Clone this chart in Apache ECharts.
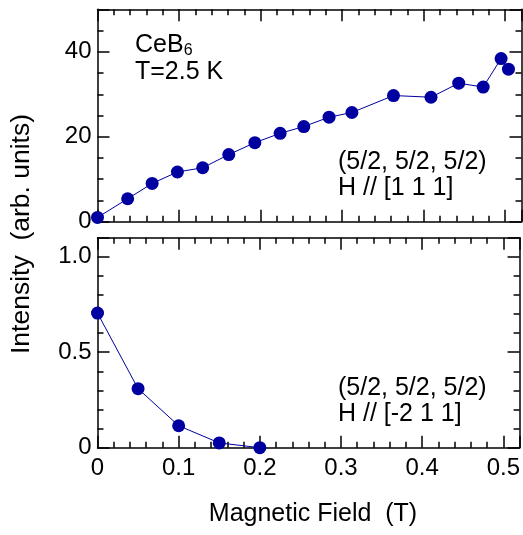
<!DOCTYPE html>
<html>
<head>
<meta charset="utf-8">
<script src="https://cdn.jsdelivr.net/npm/echarts@6/dist/echarts.min.js"></script>
<style>html,body{margin:0;padding:0;background:#fff}#c{width:523px;height:535px}</style>
</head>
<body>
<div id="c"></div>
<script>
// ---- data ----
const topField = [0, 0.037, 0.067, 0.098, 0.129, 0.161, 0.193, 0.224, 0.253, 0.284, 0.312, 0.363, 0.409, 0.443, 0.473, 0.495, 0.504];
const topIntensity = [1.0, 5.4, 9.0, 11.7, 12.7, 15.8, 18.6, 20.8, 22.4, 24.6, 25.7, 29.7, 29.3, 32.6, 31.7, 38.4, 35.9];
const bottomField = [0, 0.05, 0.10, 0.15, 0.20];
const bottomIntensity = [0.705, 0.309, 0.115, 0.025, 0.0];
const xTickLabels = ['0', '0.1', '0.2', '0.3', '0.4', '0.5'];
const topYTickLabels = ['0', '20', '40'];
const bottomYTickLabels = ['0', '0.5', '1.0'];

const FONT = '"Liberation Sans", Arial, Helvetica, sans-serif';
const FS = 24;
const BLUE = '#0000a0';
const lineStyle = { color: '#000', width: 1.5 };

function fmtFrom(list) {
  return function (v) {
    for (const s of list) { if (Math.abs(parseFloat(s) - v) < 1e-9) return s; }
    return '';
  };
}

function makeX(gridIndex, labels) {
  const base = { type: 'value', gridIndex, min: 0, max: 0.52, splitLine: { show: false } };
  return [
    Object.assign({}, base, { position: 'bottom', interval: 0.1,
      axisLine: { show: true, onZero: false, lineStyle },
      axisTick: { show: true, inside: true, length: 12, lineStyle },
      axisLabel: { show: !!labels, margin: 9, color: '#000', fontFamily: FONT, fontSize: FS, formatter: fmtFrom(xTickLabels) } }),
    Object.assign({}, base, { position: 'bottom', interval: 0.02,
      axisLine: { show: false, onZero: false },
      axisTick: { show: true, inside: true, length: 6, lineStyle },
      axisLabel: { show: false } }),
    Object.assign({}, base, { position: 'top', interval: 0.1,
      axisLine: { show: true, onZero: false, lineStyle },
      axisTick: { show: true, inside: true, length: 12, lineStyle },
      axisLabel: { show: false } }),
    Object.assign({}, base, { position: 'top', interval: 0.02,
      axisLine: { show: false, onZero: false },
      axisTick: { show: true, inside: true, length: 6, lineStyle },
      axisLabel: { show: false } })
  ];
}

function makeY(gridIndex, max, major, minor, labels) {
  const base = { type: 'value', gridIndex, min: 0, max: max, splitLine: { show: false } };
  return [
    Object.assign({}, base, { position: 'left', interval: major,
      axisLine: { show: true, onZero: false, lineStyle },
      axisTick: { show: true, inside: true, length: 12, lineStyle },
      axisLabel: { show: true, margin: 6, color: '#000', fontFamily: FONT, fontSize: FS, formatter: fmtFrom(labels) } }),
    Object.assign({}, base, { position: 'left', interval: minor,
      axisLine: { show: false, onZero: false },
      axisTick: { show: true, inside: true, length: 6, lineStyle },
      axisLabel: { show: false } }),
    Object.assign({}, base, { position: 'right', interval: major,
      axisLine: { show: true, onZero: false, lineStyle },
      axisTick: { show: true, inside: true, length: 12, lineStyle },
      axisLabel: { show: false } }),
    Object.assign({}, base, { position: 'right', interval: minor,
      axisLine: { show: false, onZero: false },
      axisTick: { show: true, inside: true, length: 6, lineStyle },
      axisLabel: { show: false } })
  ];
}

const chart = echarts.init(document.getElementById('c'), null, { renderer: 'canvas' });

function textEl(x, y, text, extra) {
  return {
    type: 'text', x: x, y: y,
    style: Object.assign({ text: text, font: FS + 'px ' + FONT, fill: '#000', verticalAlign: 'middle', align: 'left' }, extra || {})
  };
}

chart.setOption({
  animation: false,
  backgroundColor: '#fff',
  grid: [
    { left: 97.5, top: 9.3, width: 424, height: 212.4 },
    { left: 97.5, top: 237.7, width: 424, height: 210 }
  ],
  xAxis: makeX(0, false).concat(makeX(1, true)),
  yAxis: makeY(0, 50, 20, 5, topYTickLabels).concat(makeY(1, 1.1, 0.5, 0.1, bottomYTickLabels)),
  series: [
    { type: 'line', xAxisIndex: 0, yAxisIndex: 0, clip: false,
      data: topField.map((x, i) => [x, topIntensity[i]]),
      symbol: 'circle', symbolSize: 13,
      lineStyle: { color: BLUE, width: 1 }, itemStyle: { color: BLUE } },
    { type: 'line', xAxisIndex: 4, yAxisIndex: 4, clip: false,
      data: bottomField.map((x, i) => [x, bottomIntensity[i]]),
      symbol: 'circle', symbolSize: 13,
      lineStyle: { color: BLUE, width: 1 }, itemStyle: { color: BLUE } }
  ],
  graphic: [
    { type: 'text', x: 135, y: 45,
      style: { text: 'CeB{s|6}', font: 25 + 'px ' + FONT, fill: '#000', verticalAlign: 'middle',
        rich: { s: { fontSize: 16, fontFamily: FONT, fill: '#000', padding: [12, 0, 0, 0] } } } },
    textEl(135, 72, 'T=2.5 K', { font: '25px ' + FONT }),
    textEl(338, 162, '(5/2, 5/2, 5/2)', { font: '25px ' + FONT }),
    textEl(338, 188, 'H // [1 1 1]', { font: '25px ' + FONT }),
    textEl(338, 388, '(5/2, 5/2, 5/2)', { font: '25px ' + FONT }),
    textEl(338, 414, 'H // [-2 1 1]', { font: '25px ' + FONT }),
    textEl(313, 514, 'Magnetic Field  (T)', { align: 'center', font: '25px ' + FONT }),
    { type: 'text', x: 22, y: 234, rotation: Math.PI / 2,
      style: { text: 'Intensity  (arb. units)', font: '26.5px ' + FONT, fill: '#000', align: 'center', verticalAlign: 'middle' } }
  ]
});
</script>
</body>
</html>
